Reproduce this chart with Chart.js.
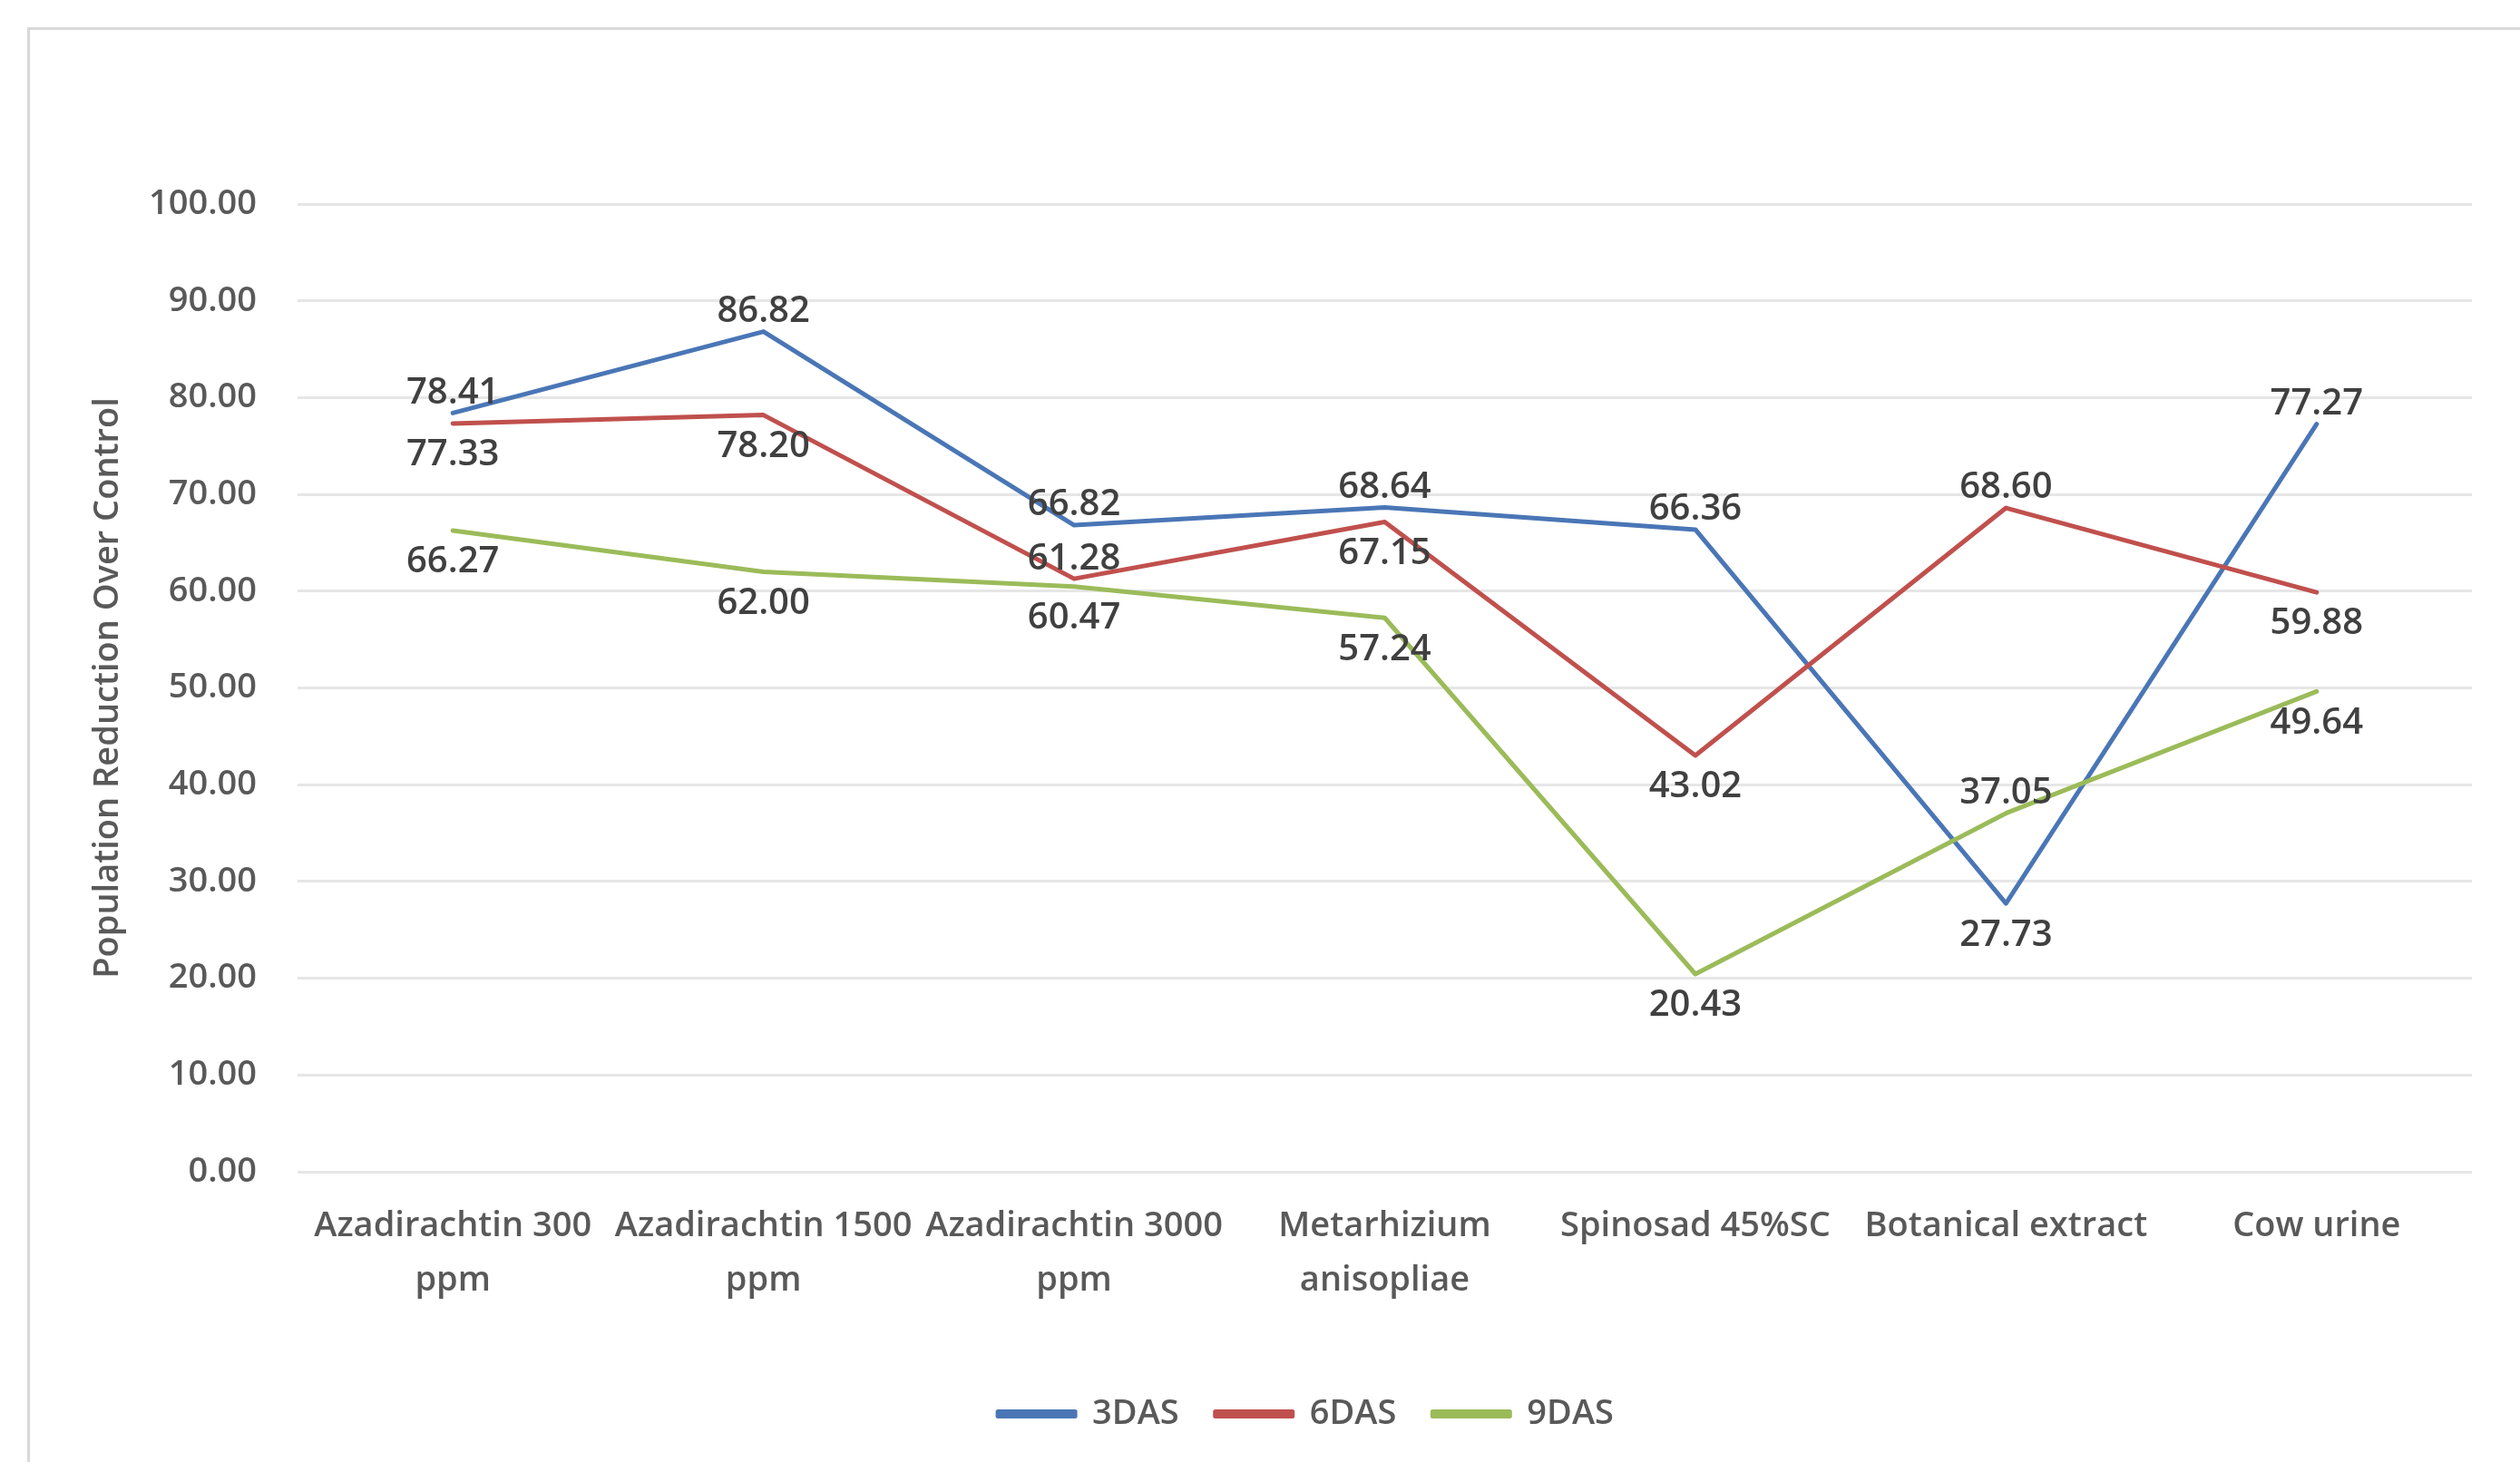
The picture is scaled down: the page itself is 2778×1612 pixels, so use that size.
<!DOCTYPE html>
<html>
<head>
<meta charset="utf-8">
<script src="https://cdn.jsdelivr.net/npm/chart.js@4.4.1/dist/chart.umd.min.js"></script>
<style>
  html, body { margin: 0; padding: 0; background: #ffffff; overflow: hidden; }
  #frame { position: absolute; left: 30px; top: 30px; width: 2800px; height: 1700px;
           border-left: 3px solid #d9d9d9; border-top: 3px solid #d9d9d9; }
  #wrap { position: absolute; left: 0; top: 0; width: 2778px; height: 1612px; }
</style>
</head>
<body>
<div id="frame"></div>
<div id="wrap"><canvas id="chart"></canvas></div>
<script>
// Treatments (x categories)
const treatments = [
  ["Azadirachtin 300", "ppm"],
  ["Azadirachtin 1500", "ppm"],
  ["Azadirachtin 3000", "ppm"],
  ["Metarhizium", "anisopliae"],
  "Spinosad 45%SC",
  "Botanical extract",
  "Cow urine"
];

// Population reduction over control (%) by days after spraying
const seriesNames = ["3DAS", "6DAS", "9DAS"];
const das3 = [78.41, 86.82, 66.82, 68.64, 66.36, 27.73, 77.27];
const das6 = [77.33, 78.20, 61.28, 67.15, 43.02, 68.60, 59.88];
const das9 = [66.27, 62.00, 60.47, 57.24, 20.43, 37.05, 49.64];

// Y-axis ticks
const yTickValues = [0, 10, 20, 30, 40, 50, 60, 70, 80, 90, 100];

// Where each value label sits relative to its point
const side3 = ["above", "above", "above", "above", "above", "below", "above"];
const side6 = ["below", "below", "above", "below", "below", "above", "below"];
const side9 = ["below", "below", "below", "below", "below", "above", "below"];

const FONT = '"Open Sans", "DejaVu Sans", sans-serif';

const valueLabels = {
  id: 'valueLabels',
  afterDatasetsDraw(chart) {
    const ctx = chart.ctx;
    ctx.save();
    ctx.font = '600 40px ' + FONT;
    ctx.fillStyle = '#404040';
    ctx.textAlign = 'center';
    ctx.textBaseline = 'middle';
    chart.data.datasets.forEach((ds, di) => {
      const meta = chart.getDatasetMeta(di);
      meta.data.forEach((pt, i) => {
        const dy = ds.labelSide[i] === 'above' ? -22 : 35;
        ctx.fillText(ds.data[i].toFixed(2), pt.x, pt.y + dy);
      });
    });
    ctx.restore();
  }
};

// nudge the legend row sideways
const legendShift = {
  id: 'legendShift',
  afterLayout(chart) {
    if (chart.legend) {
      chart.legend.left += 31;
      chart.legend.right += 31;
    }
  }
};

function series(label, data, color, side, order) {
  return {
    label, data, order,
    borderColor: color,
    backgroundColor: color,
    borderWidth: 5,
    borderCapStyle: 'round',
    borderJoinStyle: 'round',
    pointRadius: 0,
    pointHoverRadius: 0,
    tension: 0,
    fill: false,
    labelSide: side
  };
}

new Chart(document.getElementById('chart'), {
  type: 'line',
  data: {
    labels: treatments,
    datasets: [
      series(seriesNames[0], das3, '#4a76b6', side3, 3),
      series(seriesNames[1], das6, '#c0504d', side6, 2),
      series(seriesNames[2], das9, '#9bbb59', side9, 1)
    ]
  },
  options: {
    responsive: true,
    maintainAspectRatio: false,
    animation: false,
    layout: { padding: { left: 92, right: 53, top: 225, bottom: 24 } },
    plugins: {
      tooltip: { enabled: false },
      legend: {
        position: 'bottom',
        labels: {
          sort: (a, b) => a.datasetIndex - b.datasetIndex,
          boxWidth: 85,
          boxHeight: 5,
          padding: 40,
          color: '#595959',
          font: { family: FONT, size: 38, weight: '600' }
        }
      }
    },
    scales: {
      x: {
        offset: true,
        grid: { display: false, drawTicks: false },
        border: { display: false },
        ticks: {
          autoSkip: false,
          maxRotation: 0,
          minRotation: 0,
          padding: 30,
          color: '#595959',
          font: { family: FONT, size: 38, weight: '600', lineHeight: 1.58 }
        },
        afterFit(scale) { scale.height = 208; }
      },
      y: {
        min: 0,
        max: 100,
        afterBuildTicks(scale) { scale.ticks = yTickValues.map(v => ({ value: v })); },
        grid: { color: '#e6e6e6', lineWidth: 3, drawTicks: false },
        border: { display: false },
        ticks: {
          padding: 45,
          color: '#595959',
          font: { family: FONT, size: 38, weight: '600' },
          callback: v => Number(v).toFixed(2)
        },
        title: {
          display: true,
          text: 'Population Reduction Over Control',
          color: '#595959',
          font: { family: FONT, size: 38, weight: '600' },
          padding: { top: 4, bottom: 4 }
        },
        afterFit(scale) { scale.width = 328 - 92; }
      }
    }
  },
  plugins: [valueLabels, legendShift]
});
</script>
</body>
</html>
